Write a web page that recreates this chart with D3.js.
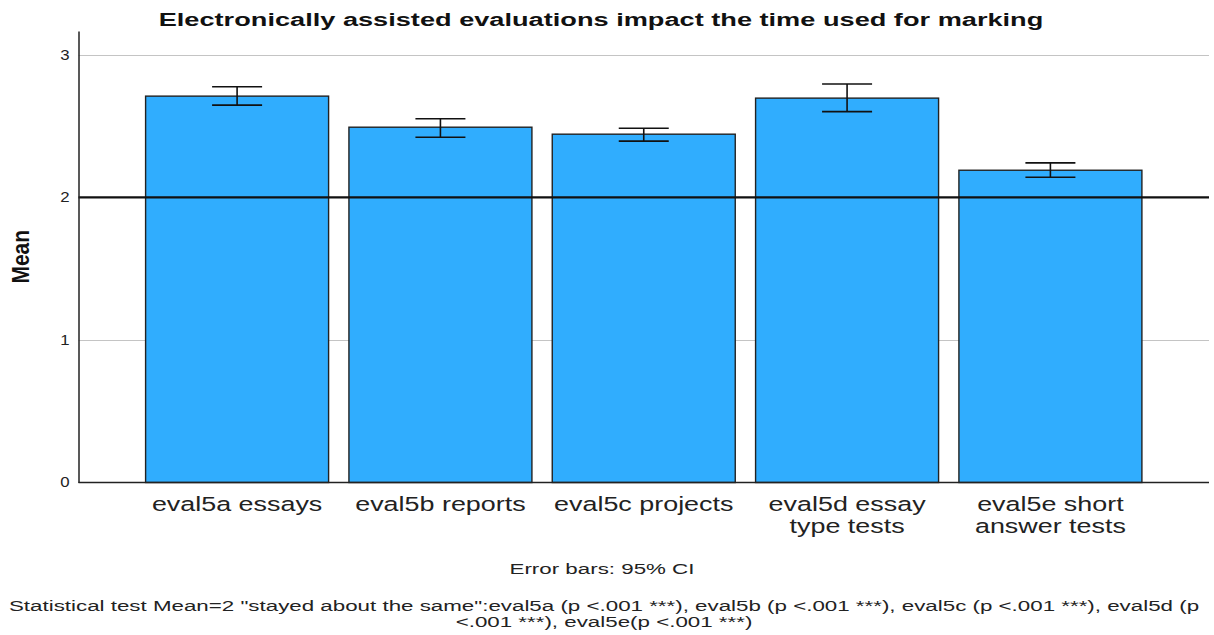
<!DOCTYPE html>
<html>
<head>
<meta charset="utf-8">
<script src="https://cdn.jsdelivr.net/npm/d3@7"></script>
<style>
  html, body { margin: 0; padding: 0; background: #fff; }
  svg { display: block; font-family: "Liberation Sans", Arial, sans-serif; }
</style>
</head>
<body>
<svg id="chart" width="1214" height="635"></svg>
<script>
// Item labels (one array per line of the wrapped label)
const categories = ["eval5a", "eval5b", "eval5c", "eval5d", "eval5e"];
const labelLines = [
  ["eval5a essays"],
  ["eval5b reports"],
  ["eval5c projects"],
  ["eval5d essay", "type tests"],
  ["eval5e short", "answer tests"]
];
// Means and 95% confidence limits
const means    = [2.711, 2.493, 2.444, 2.697, 2.191];
const ciLower  = [2.648, 2.423, 2.395, 2.602, 2.142];
const ciUpper  = [2.777, 2.552, 2.486, 2.796, 2.243];
const yTicks   = [0, 1, 2, 3];
const testValue = 2;

const titleText = "Electronically assisted evaluations impact the time used for marking";
const footnote1 = "Error bars: 95% CI";
const footnote2 = [
  "Statistical test Mean=2 \"stayed about the same\":eval5a (p <.001 ***), eval5b (p <.001 ***), eval5c (p <.001 ***), eval5d (p",
  "<.001 ***), eval5e(p <.001 ***)"
];

// The output's text is set wide: glyphs are stretched horizontally
const stretch = 1.42;

const svg = d3.select("#chart");
const plot = { left: 78.5, right: 1209, top: 31, bottom: 482.5 };

const x = d3.scaleBand()
  .domain(categories)
  .range([plot.left, plot.right])
  .paddingInner(0.1)
  .paddingOuter(0.33);

const y = d3.scaleLinear()
  .domain([0, 3.168])
  .range([plot.bottom, plot.top]);

// Place a text element at (px, py) with horizontally widened glyphs
function wideText(sel, px, py, sx) {
  return sel.attr("transform", `translate(${px},${py}) scale(${sx},1)`)
    .attr("x", 0).attr("y", 0);
}

// Horizontal grid lines
svg.append("g")
  .selectAll("line")
  .data(yTicks.filter(d => d > 0))
  .join("line")
  .attr("x1", plot.left).attr("x2", plot.right)
  .attr("y1", d => Math.round(y(d)) + 0.5).attr("y2", d => Math.round(y(d)) + 0.5)
  .attr("stroke", "#c4c4c4").attr("stroke-width", 1);

// Bars
svg.append("g")
  .selectAll("rect")
  .data(categories)
  .join("rect")
  .attr("x", d => x(d))
  .attr("y", (d, i) => y(means[i]))
  .attr("width", x.bandwidth())
  .attr("height", (d, i) => y(0) - y(means[i]))
  .attr("fill", "#30adfe")
  .attr("stroke", "#222")
  .attr("stroke-width", 1.4);

// Test value reference line
svg.append("line")
  .attr("x1", plot.left).attr("x2", plot.right)
  .attr("y1", y(testValue)).attr("y2", y(testValue))
  .attr("stroke", "#111").attr("stroke-width", 2.2);

// Error bars
const capHalf = 25;
const eb = svg.append("g").attr("stroke", "#111").attr("stroke-width", 1.6);
categories.forEach((c, i) => {
  const cx = x(c) + x.bandwidth() / 2;
  eb.append("line").attr("x1", cx).attr("x2", cx)
    .attr("y1", y(ciLower[i])).attr("y2", y(ciUpper[i]));
  eb.append("line").attr("x1", cx - capHalf).attr("x2", cx + capHalf)
    .attr("y1", y(ciUpper[i])).attr("y2", y(ciUpper[i]));
  eb.append("line").attr("x1", cx - capHalf).attr("x2", cx + capHalf)
    .attr("y1", y(ciLower[i])).attr("y2", y(ciLower[i]));
});

// Y axis
const yAxis = svg.append("g")
  .attr("transform", `translate(${plot.left},0)`)
  .call(d3.axisLeft(y).tickValues(yTicks).tickFormat(d3.format("d")).tickSize(0).tickPadding(9));
yAxis.select(".domain").attr("stroke", "#222").attr("stroke-width", 1.5);
yAxis.selectAll(".tick text")
  .attr("font-size", 14).attr("fill", "#222")
  .attr("font-family", "Liberation Sans, Arial, sans-serif")
  .attr("transform", "scale(1.2,1)")
  .attr("x", -9 / 1.2);

// X axis line
svg.append("line")
  .attr("x1", plot.left).attr("x2", plot.right)
  .attr("y1", plot.bottom).attr("y2", plot.bottom)
  .attr("stroke", "#222").attr("stroke-width", 1.5);

// X category labels
svg.append("g")
  .selectAll("text")
  .data(categories)
  .join("text")
  .attr("text-anchor", "middle")
  .attr("font-size", 19.5)
  .attr("fill", "#222")
  .each(function(d, i) {
    const t = d3.select(this);
    wideText(t, x(d) + x.bandwidth() / 2, 511, 1.38);
    labelLines[i].forEach((line, j) => {
      t.append("tspan")
        .attr("x", 0)
        .attr("dy", j === 0 ? 0 : 22.5)
        .text(line);
    });
  });

// Y axis title
svg.append("text")
  .attr("transform", `translate(29,${(plot.top + plot.bottom) / 2 + 0}) scale(1.15,1) rotate(-90)`)
  .attr("text-anchor", "middle")
  .attr("font-size", 21)
  .attr("font-weight", "bold")
  .attr("fill", "#111")
  .text("Mean");

// Title
svg.append("text")
  .call(wideText, 601, 26, 1.43)
  .attr("text-anchor", "middle")
  .attr("font-size", 19)
  .attr("font-weight", "bold")
  .attr("fill", "#111")
  .text(titleText);

// Footnotes
svg.append("text")
  .call(wideText, 602, 574, 1.49)
  .attr("text-anchor", "middle")
  .attr("font-size", 15)
  .attr("fill", "#222")
  .text(footnote1);

svg.append("g")
  .selectAll("text")
  .data(footnote2)
  .join("text")
  .each(function(d, i) { wideText(d3.select(this), 604, 611 + i * 16, 1.49); })
  .attr("text-anchor", "middle")
  .attr("font-size", 15)
  .attr("fill", "#222")
  .text(d => d);
</script>
</body>
</html>
